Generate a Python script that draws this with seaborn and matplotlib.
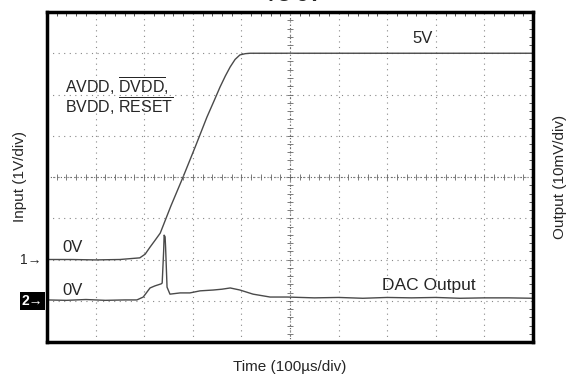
import numpy as np
import matplotlib
matplotlib.use("Agg")
import matplotlib.pyplot as plt
import seaborn as sns

# scope traces in divisions (x: 0..10, y: 0..8)
ch1_x = [0.0, 0.5, 1.0, 1.5, 1.91, 2.02, 2.12, 2.22, 2.33, 2.55, 2.80, 3.05, 3.29, 3.45, 3.56, 3.67, 3.77, 3.87, 3.97, 4.08, 4.18, 6.0, 8.0, 10.0]
ch1_y = [2.0, 2.0, 1.99, 2.0, 2.04, 2.13, 2.30, 2.46, 2.64, 3.30, 4.00, 4.73, 5.45, 5.88, 6.18, 6.45, 6.67, 6.85, 6.96, 6.99, 7.0, 7.0, 7.0, 7.0]

ch2_x = [0.0, 0.4, 0.8, 1.2, 1.6, 1.85, 1.98, 2.05, 2.12, 2.22, 2.35, 2.37, 2.40, 2.41, 2.43, 2.44, 2.47, 2.53,
         2.74, 2.94, 3.15, 3.42, 3.60, 3.77, 3.97, 4.24, 4.59, 4.94, 5.5, 6.0, 6.5, 7.0, 7.5, 8.0, 8.5, 9.0, 9.5, 10.0]
ch2_y = [1.02, 1.01, 1.03, 1.01, 1.02, 1.02, 1.09, 1.20, 1.31, 1.36, 1.41, 1.43, 2.20, 2.59, 2.55, 2.30, 1.33, 1.16,
         1.19, 1.19, 1.24, 1.26, 1.28, 1.31, 1.26, 1.16, 1.09, 1.09, 1.07, 1.08, 1.06, 1.08, 1.07, 1.08, 1.06, 1.07, 1.07, 1.06]

sns.set_style("white")
plt.rcParams['font.family'] = ['Liberation Sans', 'DejaVu Sans']
plt.rcParams['mathtext.fontset'] = 'custom'
plt.rcParams['mathtext.rm'] = 'Liberation Sans'

fig = plt.figure(figsize=(5.67, 3.8), dpi=100)
ax = fig.add_axes([47 / 567, 1 - 342 / 380, 486 / 567, 330 / 380])

trace = '#4a4a4a'
sns.lineplot(x=ch1_x, y=ch1_y, ax=ax, color=trace, lw=1.0, sort=False, estimator=None)
sns.lineplot(x=ch2_x, y=ch2_y, ax=ax, color=trace, lw=1.0, sort=False, estimator=None)

ax.set_xlim(0, 10)
ax.set_ylim(0, 8)

# graticule
ax.set_xticks(range(11))
ax.set_yticks(range(9))
ax.set_xticks(np.arange(0, 10.01, 0.2), minor=True)
ax.set_yticks(np.arange(0, 8.01, 0.2), minor=True)
ax.grid(True, which='major', color='#888888', linestyle=(0, (1, 4)), lw=0.8)
ax.tick_params(which='both', direction='in', top=True, right=True,
               labelbottom=False, labelleft=False, color='#555555')
ax.tick_params(which='major', length=0)
ax.tick_params(which='minor', length=3, width=0.7)
ax.axhline(4, color='#666666', linestyle=(0, (1, 2)), lw=0.8)
ax.axvline(5, color='#666666', linestyle=(0, (1, 2)), lw=0.8)
mx = np.arange(0, 10.01, 0.2)
my = np.arange(0, 8.01, 0.2)
ax.plot(mx, np.full_like(mx, 4), ls='none', marker='|', ms=4, mew=0.6, color='#666666')
ax.plot(np.full_like(my, 5), my, ls='none', marker='_', ms=4, mew=0.6, color='#666666')
for s in ax.spines.values():
    s.set_visible(True)
    s.set_linewidth(2.5)
    s.set_color('black')

# labels on the traces
ax.text(7.72, 7.35, "5V", fontsize=12, ha='center', va='center')
ax.text(0.37, 6.20, r"AVDD, $\overline{\mathrm{DVDD}}$,", fontsize=11.5, ha='left', va='center')
ax.text(0.37, 5.71, r"BVDD, $\overline{\mathrm{RESET}}$", fontsize=11.5, ha='left', va='center')
ax.text(0.31, 2.28, "0V", fontsize=12, ha='left', va='center')
ax.text(0.31, 1.26, "0V", fontsize=12, ha='left', va='center')
ax.text(6.89, 1.37, "DAC Output", fontsize=12.5, ha='left', va='center')

# channel markers
yt = ax.get_yaxis_transform()
ax.text(-0.012, 2.0, "1\u2192", transform=yt, ha='right', va='center', fontsize=10)
ax.text(-0.008, 1.0, "2\u2192", transform=yt, ha='right', va='center', fontsize=10,
        color='white', fontweight='bold', bbox=dict(fc='black', ec='none', pad=1.5))

fig.text(290 / 567, 1 - 367 / 380, "Time (100\u00b5s/div)", fontsize=11, ha='center', va='center')
fig.text(20 / 567, 1 - 177 / 380, "Input (1V/div)", fontsize=11, ha='center', va='center', rotation=90)
fig.text(560 / 567, 1 - 177 / 380, "Output (10mV/div)", fontsize=11, ha='center', va='center', rotation=90)
fig.text(293 / 567, 1 - 5 / 380, "TO 5V", fontsize=14, fontweight='bold', ha='center', va='bottom')

fig.savefig("out.png", dpi=100)
